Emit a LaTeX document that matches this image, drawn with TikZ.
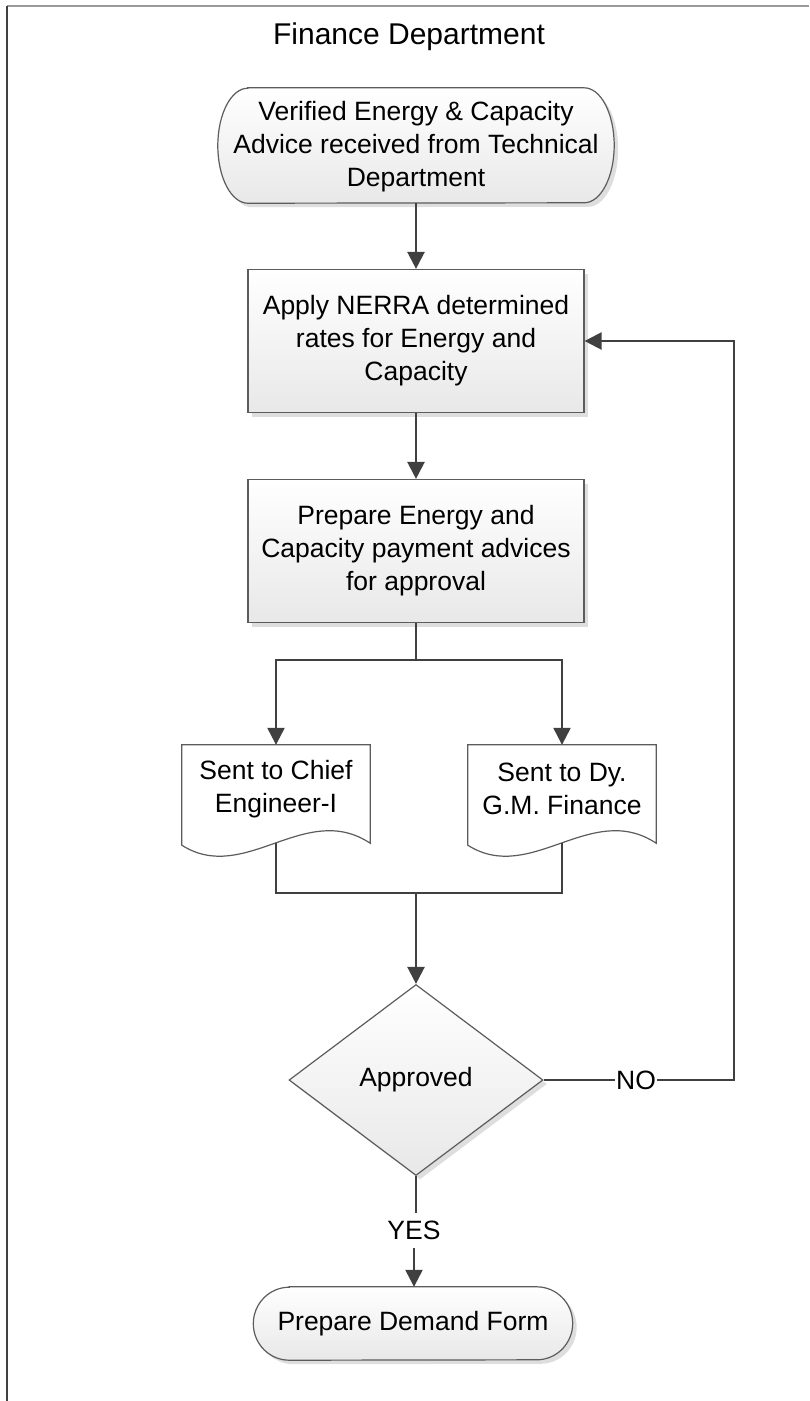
\documentclass[tikz,border=0pt]{standalone}
\usepackage{fontspec}
\setmainfont{Liberation Sans}
\usetikzlibrary{arrows.meta,shapes.geometric,shadows,calc}

\definecolor{wire}{HTML}{404040}
\definecolor{outline}{HTML}{5C5C5C}
\definecolor{shadecol}{HTML}{DEDEDE}
\definecolor{framegray}{HTML}{9A9A9A}

% rounded terminator outline around an (invisible) node: #1 node, #2 end x radius, #3 end y radius
\newcommand\terminatorpath[3]{%
  ($(#1.north west)+(#2,0)$) -- ($(#1.north east)+(-#2,0)$)
  arc[start angle=-90,end angle=90,x radius=#2,y radius=#3]
  -- ($(#1.south west)+(#2,0)$)
  arc[start angle=90,end angle=270,x radius=#2,y radius=#3] -- cycle}

% document outline with a wavy lower edge
\newcommand\documentpath[1]{%
  (#1.north west) -- (#1.north east) -- (#1.south east)
  .. controls ($(#1.south east)+(-65,-43)$) and ($(#1.south west)+(63,42)$) ..
  ($(#1.south west)+(0,2)$) -- cycle}

\begin{document}
\begin{tikzpicture}[x=1pt,y=-1pt,
  every node/.style={font=\fontsize{26.5}{33}\selectfont, text=black, align=center},
  wire/.style={draw=wire, line width=2.4pt},
  flow/.style={wire, -{Triangle[length=17pt,width=17pt]}},
  holder/.style={rectangle, draw=none, inner sep=0pt},
  process/.style={rectangle, draw=outline, line width=1.2pt,
    top color=white, bottom color=black!9,
    drop shadow={shadow xshift=4pt, shadow yshift=-4pt, fill=shadecol, opacity=1},
    minimum width=336pt, minimum height=143pt, inner sep=0pt},
  decision/.style={diamond, draw=outline, line width=1.2pt,
    top color=white, bottom color=black!9,
    drop shadow={shadow xshift=4pt, shadow yshift=-4pt, fill=shadecol, opacity=1},
    minimum width=254pt, minimum height=191pt, inner sep=0pt},
  termfill/.style={draw=outline, line width=1.2pt, top color=white, bottom color=black!9},
  termshadow/.style={fill=shadecol},
  docfill/.style={draw=outline, line width=1.2pt, fill=white},
  tag/.style={fill=white, inner sep=1pt}
]
\useasboundingbox (0,0) rectangle (809,1401);

% frame
\draw[draw=framegray, line width=2pt] (7,6) -- (809,6);
\draw[draw=wire, line width=2pt] (7,6) -- (7,1401);

\node (title) at (409,37) {\fontsize{30}{36}\selectfont Finance Department};

% start terminator
\node[holder, minimum width=396pt, minimum height=115pt] (start) at (416,145.5) {};
\begin{scope}[transform canvas={shift={(4pt,-4pt)}}]
  \path[termshadow] \terminatorpath{start}{30}{57.5};
\end{scope}
\path[termfill] \terminatorpath{start}{30}{57.5};
\node (starttext) at ($(start.center)+(0,1)$) {Verified Energy \& Capacity\\Advice received from Technical\\Department};

% processes
\node[process] (apply) at (416,341) {Apply NERRA determined\\rates for Energy and\\Capacity};
\node[process] (prepare) at (416,551) {Prepare Energy and\\Capacity payment advices\\for approval};

% documents
\node[holder, minimum width=188pt, minimum height=98pt] (chief) at (276,794) {};
\node[holder, minimum width=188pt, minimum height=98pt] (dygm) at (562,794) {};
\path[docfill] \documentpath{chief};
\path[docfill] \documentpath{dygm};
\node (chieftext) at ($(chief.center)+(0,-5)$) {Sent to Chief\\Engineer-I};
\node (dygmtext) at ($(dygm.center)+(0,-5)$) {Sent to Dy.\\G.M. Finance};

% decision
\node[decision] (approved) at (416,1080) {Approved};

% end terminator
\node[holder, minimum width=319pt, minimum height=73pt] (demand) at (413,1323.5) {};
\begin{scope}[transform canvas={shift={(4pt,-4pt)}}]
  \path[termshadow] \terminatorpath{demand}{36}{36.5};
\end{scope}
\path[termfill] \terminatorpath{demand}{36}{36.5};
\node (demandtext) at (demand.center) {Prepare Demand Form};

% branch labels
\node[tag] (no) at (636,1080) {NO};
\node[fill=white, inner xsep=2pt, inner ysep=8pt] (yes) at (414,1230.5) {YES};

% connectors
\coordinate (split) at (416,660);
\coordinate (join) at (416,893);
\coordinate (loop) at (734,341);

\draw[flow] (start.south) -- (apply.north);
\draw[flow] (apply.south) -- (prepare.north);
\draw[wire] (prepare.south) -- (split);
\draw[flow] (split) -| (chief.north);
\draw[flow] (split) -| (dygm.north);
\draw[wire] (chief.south) |- (join) -| (dygm.south);
\draw[flow] (join) -- (approved.north);
\draw[wire] (approved.east) -- (no.west);
\draw[flow] (no.east) -| (loop) -- (apply.east);
\draw[wire] (approved.south) -- (approved.south |- yes.north);
\draw[flow] (yes.south) -- (yes.south |- demand.north);
\end{tikzpicture}
\end{document}
